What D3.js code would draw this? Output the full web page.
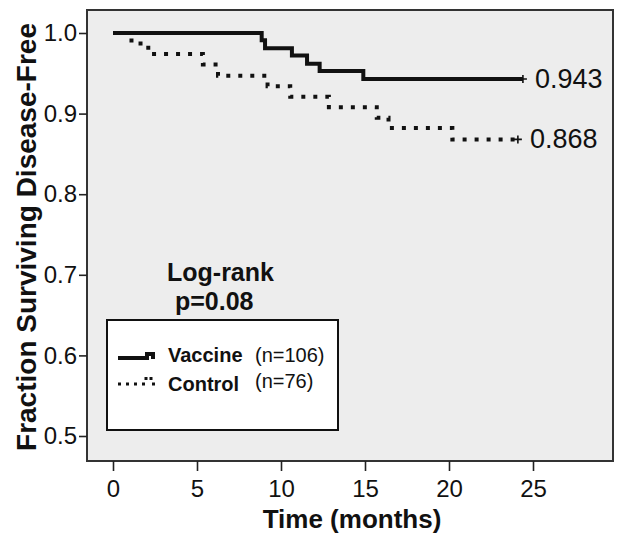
<!DOCTYPE html>
<html>
<head>
<meta charset="utf-8">
<script src="https://cdn.jsdelivr.net/npm/d3@7"></script>
<style>
  html, body { margin: 0; padding: 0; background: #ffffff; }
  svg { display: block; font-family: "Liberation Sans", Arial, sans-serif; }
</style>
</head>
<body>
<svg id="chart" width="624" height="544"></svg>
<script>
// ---- Data ----
const vaccineTimes = [0, 8.85, 9.05, 10.65, 11.55, 12.3, 14.9, 24.4];
const vaccineSurv  = [1.0, 0.991, 0.981, 0.972, 0.962, 0.953, 0.943, 0.943];
const controlTimes = [0, 1.1, 2.1, 5.35, 6.25, 9.2, 10.55, 12.85, 15.7, 16.4, 20.2, 24.1];
const controlSurv  = [1.0, 0.987, 0.974, 0.961, 0.947, 0.934, 0.921, 0.908, 0.895, 0.882, 0.868, 0.868];
const xTicks = [0, 5, 10, 15, 20, 25];
const yTicks = [0.5, 0.6, 0.7, 0.8, 0.9, 1.0];
const finalLabels = ["0.943", "0.868"];
const seriesNames = ["Vaccine", "Control"];
const seriesN = ["(n=106)", "(n=76)"];
const xTitle = "Time (months)";
const yTitle = "Fraction Surviving Disease-Free";
const statText = ["Log-rank", "p=0.08"];

// ---- Layout ----
const svg = d3.select("#chart");
const frame = {left: 87, top: 10, right: 613, bottom: 461};
const x = d3.scaleLinear().domain([0, 25]).range([113, 533]);
const y = d3.scaleLinear().domain([0.5, 1.0]).range([436, 33]);

// plot background
svg.append("rect")
  .attr("x", frame.left).attr("y", frame.top)
  .attr("width", frame.right - frame.left).attr("height", frame.bottom - frame.top)
  .attr("fill", "#ededed").attr("stroke", "#333").attr("stroke-width", 2);

// axes
const yAxis = svg.append("g").attr("transform", `translate(${frame.left},0)`)
  .call(d3.axisLeft(y).tickValues(yTicks).tickFormat(d3.format(".1f")).tickSize(8).tickPadding(2));
yAxis.select(".domain").remove();
yAxis.selectAll("line").attr("stroke", "#222").attr("stroke-width", 1.6);
yAxis.selectAll("text").attr("font-size", 24).attr("fill", "#111")
  .attr("font-family", "Liberation Sans, Arial, sans-serif");

const xAxis = svg.append("g").attr("transform", `translate(0,${frame.bottom})`)
  .call(d3.axisBottom(x).tickValues(xTicks).tickFormat(d3.format("d")).tickSize(10).tickPadding(9));
xAxis.select(".domain").remove();
xAxis.selectAll("line").attr("stroke", "#222").attr("stroke-width", 1.6);
xAxis.selectAll("text").attr("font-size", 24).attr("fill", "#111")
  .attr("font-family", "Liberation Sans, Arial, sans-serif");

// titles
svg.append("text").attr("x", 352).attr("y", 528).attr("text-anchor", "middle")
  .attr("font-size", 26).attr("font-weight", "bold").attr("fill", "#111").text(xTitle);
svg.append("text").attr("transform", "translate(36,237) rotate(-90)").attr("text-anchor", "middle")
  .attr("font-size", 28).attr("font-weight", "bold").attr("fill", "#111").text(yTitle);

// curves
const line = d3.line().x(d => x(d[0])).y(d => y(d[1])).curve(d3.curveStepAfter);
const vaccineData = vaccineTimes.map((t, i) => [t, vaccineSurv[i]]);
const controlData = controlTimes.map((t, i) => [t, controlSurv[i]]);

svg.append("path").datum(controlData).attr("d", line)
  .attr("fill", "none").attr("stroke", "#111").attr("stroke-width", 4)
  .attr("stroke-dasharray", "4 8");
svg.append("path").datum(vaccineData).attr("d", line)
  .attr("fill", "none").attr("stroke", "#111").attr("stroke-width", 4);

// censor marks at ends
const ends = [vaccineData[vaccineData.length - 1], controlData[controlData.length - 1]];
ends.forEach(d => {
  const cx = x(d[0]), cy = y(d[1]);
  svg.append("path").attr("d", `M${cx - 4},${cy}H${cx + 4}M${cx},${cy - 4}V${cy + 4}`)
    .attr("stroke", "#111").attr("stroke-width", 1.6);
});

// final value labels
ends.forEach((d, i) => {
  svg.append("text").attr("x", x(d[0]) + 12).attr("y", y(d[1]) + 9)
    .attr("font-size", 27).attr("fill", "#111").text(finalLabels[i]);
});

// Log-rank text
svg.append("text").attr("x", 167).attr("y", 281).attr("font-size", 25).attr("font-weight", "bold")
  .attr("fill", "#111").text(statText[0]);
svg.append("text").attr("x", 175).attr("y", 310).attr("font-size", 25).attr("font-weight", "bold")
  .attr("fill", "#111").text(statText[1]);

// legend
svg.append("rect").attr("x", 107).attr("y", 320).attr("width", 231).attr("height", 110)
  .attr("fill", "#ffffff").attr("stroke", "#111").attr("stroke-width", 2);
svg.append("path").attr("d", "M118,358H147V354H153V359")
  .attr("fill", "none").attr("stroke", "#111").attr("stroke-width", 4);
svg.append("path").attr("d", "M118,384H146V377H151V384H157")
  .attr("fill", "none").attr("stroke", "#111").attr("stroke-width", 3).attr("stroke-dasharray", "3 5");
const legY = [362, 391];
seriesNames.forEach((name, i) => {
  svg.append("text").attr("x", 168).attr("y", legY[i]).attr("font-size", 20).attr("font-weight", "bold")
    .attr("fill", "#111").text(name);
  svg.append("text").attr("x", 255).attr("y", legY[i] - (i ? 3 : 0)).attr("font-size", 20)
    .attr("fill", "#111").text(seriesN[i]);
});
</script>
</body>
</html>
